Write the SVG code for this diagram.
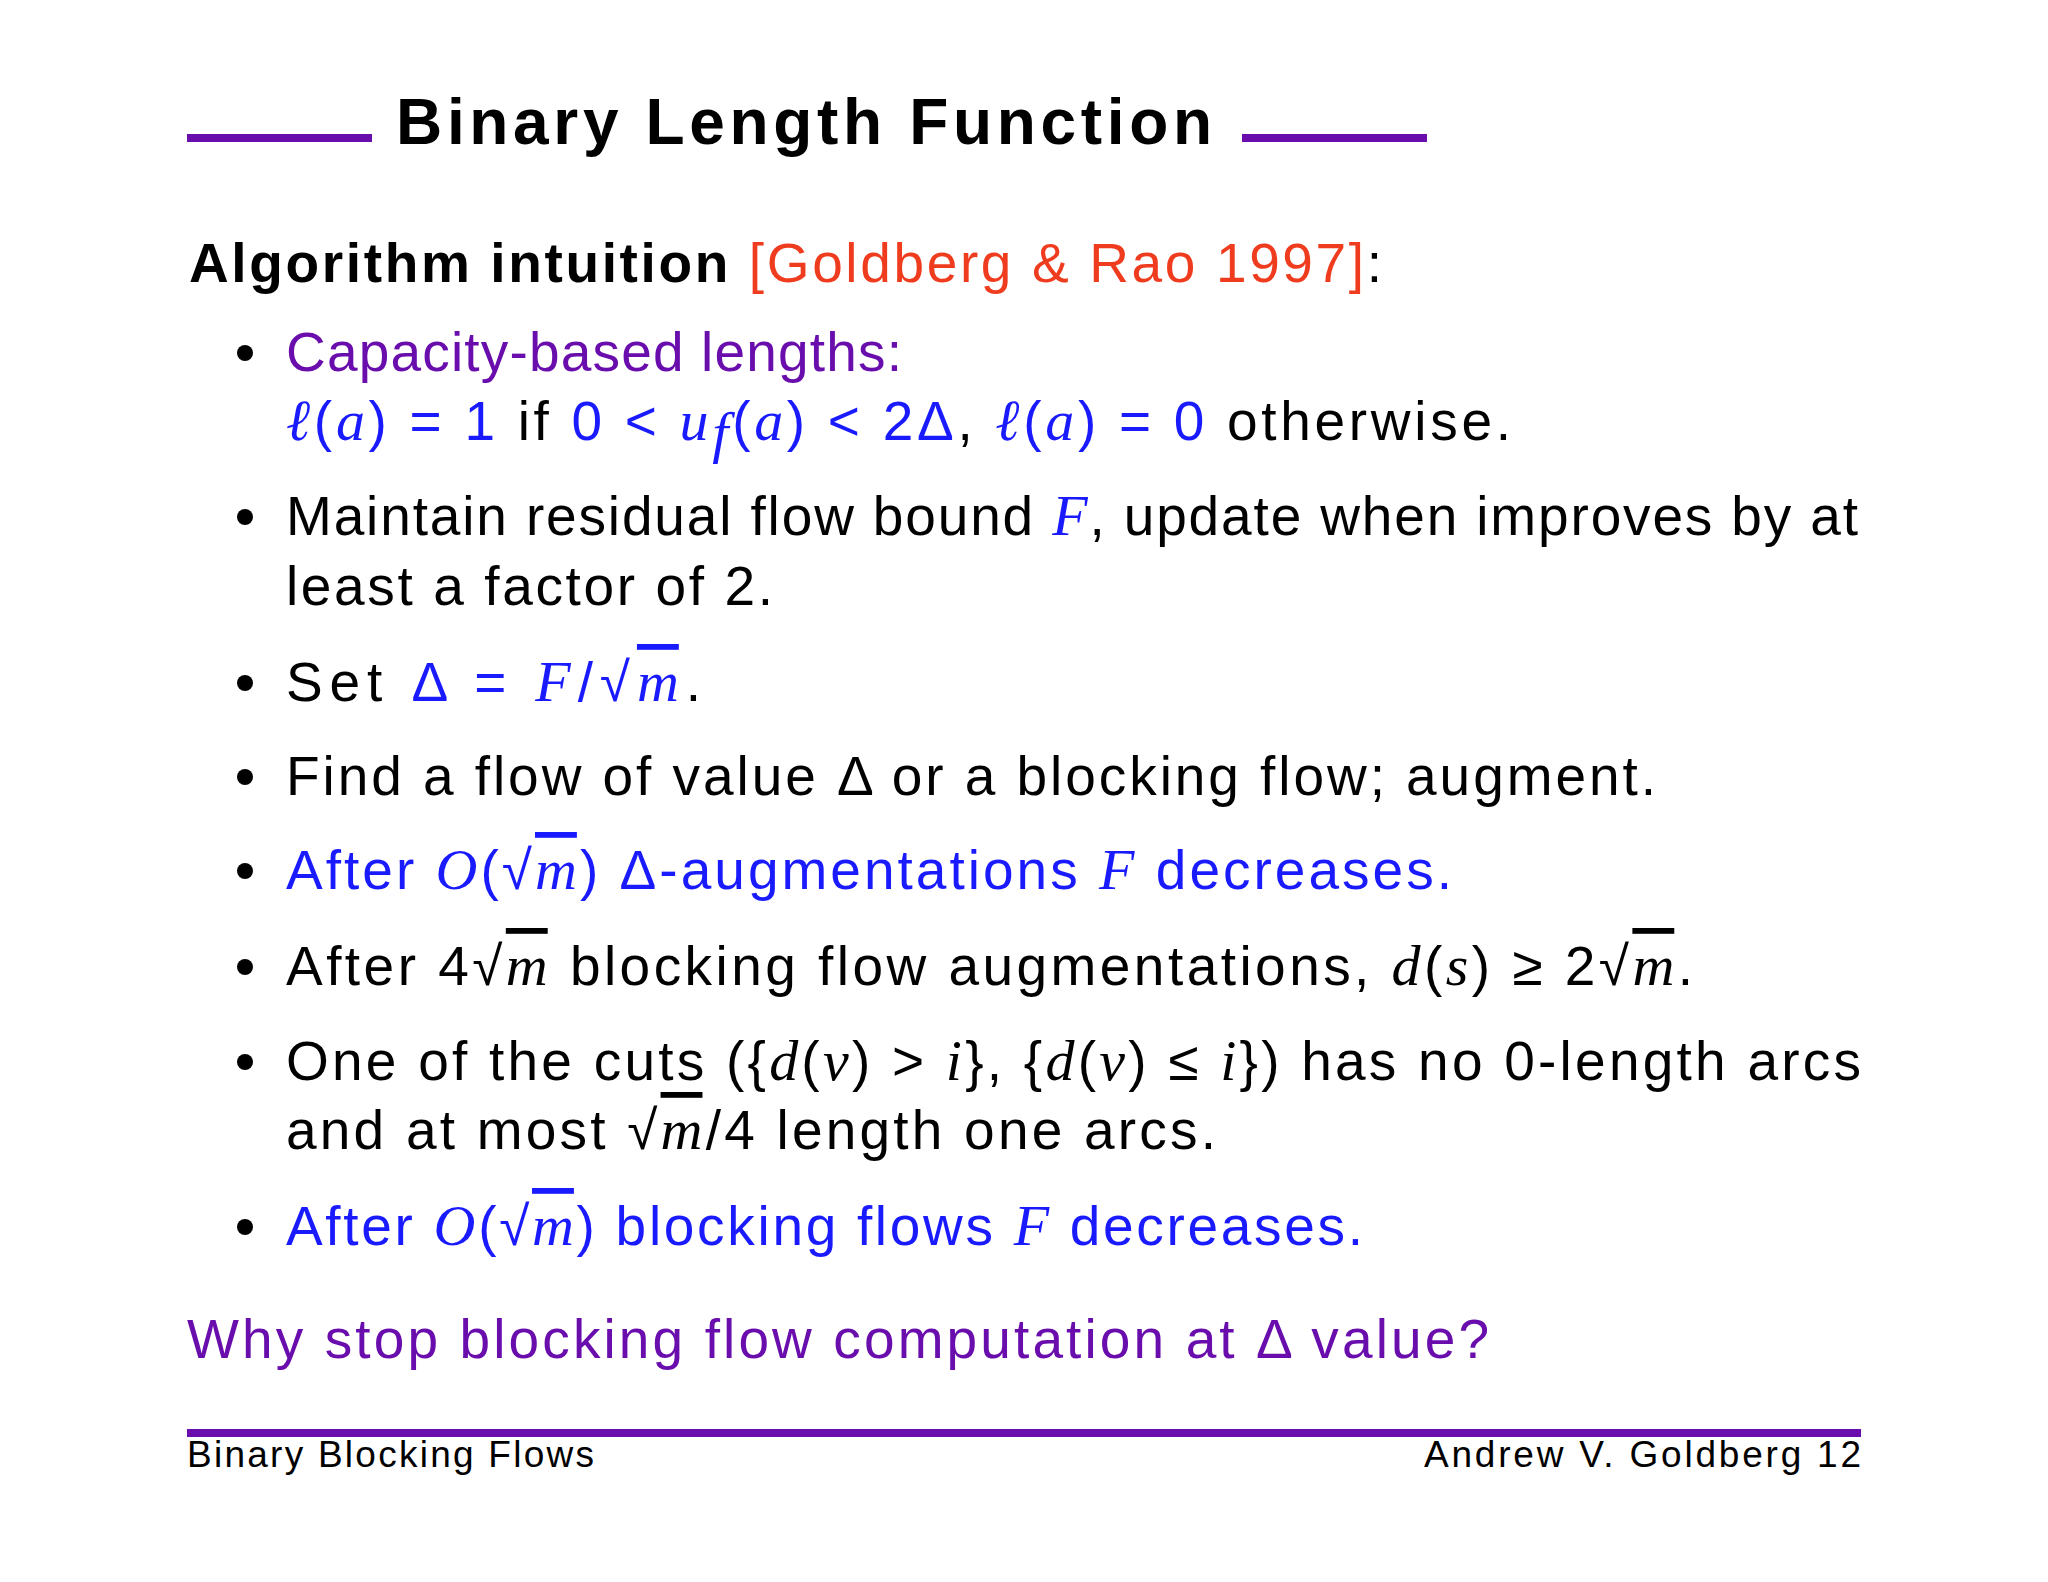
<svg xmlns="http://www.w3.org/2000/svg" width="2048" height="1582" viewBox="0 0 2048 1582">
<style>
.t{font-family:"Liberation Sans","DejaVu Sans",sans-serif;font-size:55px;fill:#000}
.b{font-weight:bold}
.p{fill:#6a0dad}
.bl{fill:#1a1aff}
.r{fill:#f03c1e}
.m{font-family:"Liberation Serif",serif;font-style:italic;font-size:58px}
.o{text-decoration:overline}
.f{font-family:"Liberation Sans","DejaVu Sans",sans-serif;font-size:37px;fill:#000}
</style>
<rect width="2048" height="1582" fill="#fff"/>
<g id="title">
<rect x="187" y="134" width="185" height="8" fill="#6a0dad"/>
<rect x="1242" y="134" width="185" height="8" fill="#6a0dad"/>
<text class="t b" x="396" y="144" font-size="64" textLength="816" lengthAdjust="spacing" style="font-size:64px;letter-spacing:0">Binary Length Function</text>
</g>
<g id="body">
<text class="t" x="189" y="282" textLength="1193" lengthAdjust="spacing"><tspan class="b">Algorithm intuition</tspan> <tspan class="r">[Goldberg &amp; Rao 1997]</tspan>:</text>
<g fill="#000">
<circle cx="245" cy="353" r="8"/><circle cx="245" cy="517" r="8"/><circle cx="245" cy="683" r="8"/>
<circle cx="245" cy="777" r="8"/><circle cx="245" cy="871" r="8"/><circle cx="245" cy="967" r="8"/>
<circle cx="245" cy="1062" r="8"/><circle cx="245" cy="1227" r="8"/>
</g>
<text class="t p" x="286" y="371" textLength="616" lengthAdjust="spacing">Capacity-based lengths:</text>
<text class="t" x="286" y="440" textLength="1225" lengthAdjust="spacing"><tspan class="bl"><tspan class="m">ℓ</tspan>(<tspan class="m">a</tspan>) = 1</tspan> if <tspan class="bl">0 &lt; <tspan class="m">u</tspan><tspan class="m" font-size="38" dy="12">f</tspan><tspan dy="-12">(</tspan><tspan class="m">a</tspan>) &lt; 2Δ</tspan>, <tspan class="bl"><tspan class="m">ℓ</tspan>(<tspan class="m">a</tspan>) = 0</tspan> otherwise.</text>
<text class="t" x="286" y="535" textLength="1572" lengthAdjust="spacing">Maintain residual flow bound <tspan class="bl m">F</tspan>, update when improves by at</text>
<text class="t" x="286" y="605" textLength="487" lengthAdjust="spacing">least a factor of 2.</text>
<text class="t" x="286" y="701" textLength="415" lengthAdjust="spacing">Set <tspan class="bl">Δ = <tspan class="m">F</tspan>/√<tspan class="m o">m</tspan></tspan>.</text>
<text class="t" x="286" y="795" textLength="1370" lengthAdjust="spacing">Find a flow of value Δ or a blocking flow; augment.</text>
<text class="t bl" x="286" y="889" textLength="1166" lengthAdjust="spacing">After <tspan class="m">O</tspan>(√<tspan class="m o">m</tspan>) Δ-augmentations <tspan class="m">F</tspan> decreases.</text>
<text class="t" x="286" y="985" textLength="1407" lengthAdjust="spacing">After 4√<tspan class="m o">m</tspan> blocking flow augmentations, <tspan class="m">d</tspan>(<tspan class="m">s</tspan>) ≥ 2√<tspan class="m o">m</tspan>.</text>
<text class="t" x="286" y="1080" textLength="1575" lengthAdjust="spacing">One of the cuts ({<tspan class="m">d</tspan>(<tspan class="m">v</tspan>) &gt; <tspan class="m">i</tspan>}, {<tspan class="m">d</tspan>(<tspan class="m">v</tspan>) ≤ <tspan class="m">i</tspan>}) has no 0-length arcs</text>
<text class="t" x="286" y="1149" textLength="930" lengthAdjust="spacing">and at most √<tspan class="m o">m</tspan>/4 length one arcs.</text>
<text class="t bl" x="286" y="1245" textLength="1077" lengthAdjust="spacing">After <tspan class="m">O</tspan>(√<tspan class="m o">m</tspan>) blocking flows <tspan class="m">F</tspan> decreases.</text>
<text class="t p" x="187" y="1358" textLength="1302" lengthAdjust="spacing">Why stop blocking flow computation at Δ value?</text>
</g>
<g id="footer">
<rect x="187" y="1429" width="1674" height="8" fill="#6a0dad"/>
<text class="f" x="187" y="1467" textLength="407" lengthAdjust="spacing">Binary Blocking Flows</text>
<text class="f" x="1424" y="1467" textLength="437" lengthAdjust="spacing">Andrew V. Goldberg  12</text>
</g>
</svg>
